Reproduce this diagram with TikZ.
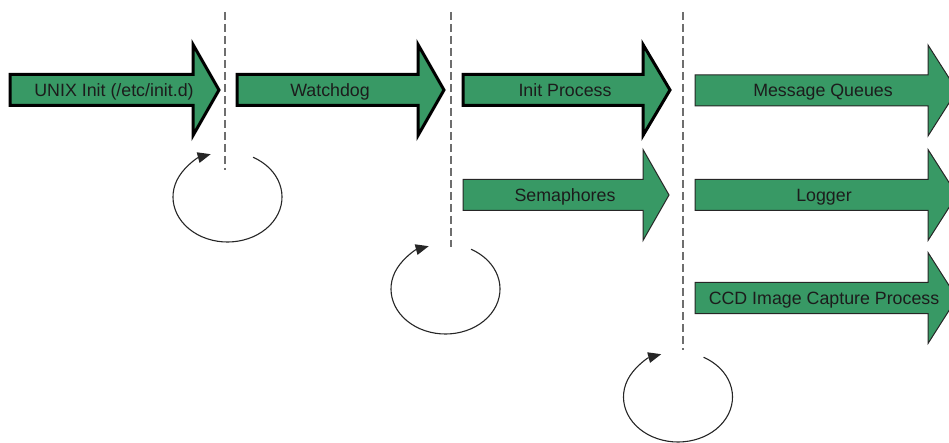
\documentclass[tikz,border=0pt]{standalone}
\usepackage{fontspec}
\setmainfont{Liberation Sans}
\usetikzlibrary{arrows.meta}

\definecolor{procgreen}{RGB}{56,153,101}
\definecolor{labeltext}{RGB}{28,28,28}
\definecolor{phaseline}{RGB}{110,110,110}

\tikzset{
  boldarrow/.style={fill=procgreen, draw=black, line width=3pt, line join=miter},
  thinarrow/.style={fill=procgreen, draw=black!85, line width=1pt, line join=miter},
  lbl/.style={inner sep=0pt, text=labeltext, font=\fontsize{17.8}{20}\selectfont,
    text height=12.8pt, text depth=3.6pt, anchor=center, yshift=-1.5pt},
  phase/.style={draw=phaseline, line width=2pt, dash pattern=on 8pt off 4pt},
  restart/.style={draw=black!85, line width=1.1pt,
    -{Triangle[length=13pt,width=11pt,line width=0pt]}},
}

% #1 style, #2 name, #3 left x, #4 head start x, #5 tip x, #6 centre y, #7 label x, #8 text
\newcommand\procarrow[8]{%
  \draw[#1] (#3,#6-15.5) -- (#4,#6-15.5) -- (#4,#6-45.5) -- (#5,#6)
    -- (#4,#6+45.5) -- (#4,#6+15.5) -- (#3,#6+15.5) -- cycle;
  \node[lbl] (#2) at (#7,#6) {#8};
}

% #1 centre coordinate name, #2 x, #3 y
\newcommand\restartloop[3]{%
  \coordinate (#1) at (#2,#3);
  \draw[restart] ([shift={(-62:54.5 and 45)}]#1) arc[start angle=-62, end angle=252, x radius=54.5, y radius=45];
}

\begin{document}
\begin{tikzpicture}[x=1pt, y=-1pt]
  \useasboundingbox (0,0) rectangle (949,443);
  \clip (0,0) rectangle (949,443);

  % phase boundaries
  \coordinate (p1top) at (225,12);  \coordinate (p1bot) at (225,170);
  \coordinate (p2top) at (451,12);  \coordinate (p2bot) at (451,247);
  \coordinate (p3top) at (683,12);  \coordinate (p3bot) at (683,350);
  \draw[phase] (p1top) -- (p1bot);
  \draw[phase] (p2top) -- (p2bot);
  \draw[phase] (p3top) -- (p3bot);

  % boot sequence
  \procarrow{boldarrow}{unix}{10}{193}{219}{90}{114}{UNIX Init (/etc/init.d)}
  \procarrow{boldarrow}{watchdog}{237}{418}{444}{90}{330}{Watchdog}
  \procarrow{boldarrow}{initproc}{463}{643}{670}{90}{565}{Init Process}

  % services
  \procarrow{thinarrow}{semaphores}{463}{643}{669}{195}{565}{Semaphores}
  \procarrow{thinarrow}{msgq}{695}{928}{957}{90.5}{823}{Message Queues}
  \procarrow{thinarrow}{logger}{695}{928}{957}{195}{824}{Logger}
  \procarrow{thinarrow}{ccd}{695}{928}{957}{298}{824}{CCD Image Capture Process}

  % restart cycles
  \restartloop{loopa}{227.5}{197}
  \restartloop{loopb}{445.5}{289}
  \restartloop{loopc}{678}{397}
\end{tikzpicture}
\end{document}
